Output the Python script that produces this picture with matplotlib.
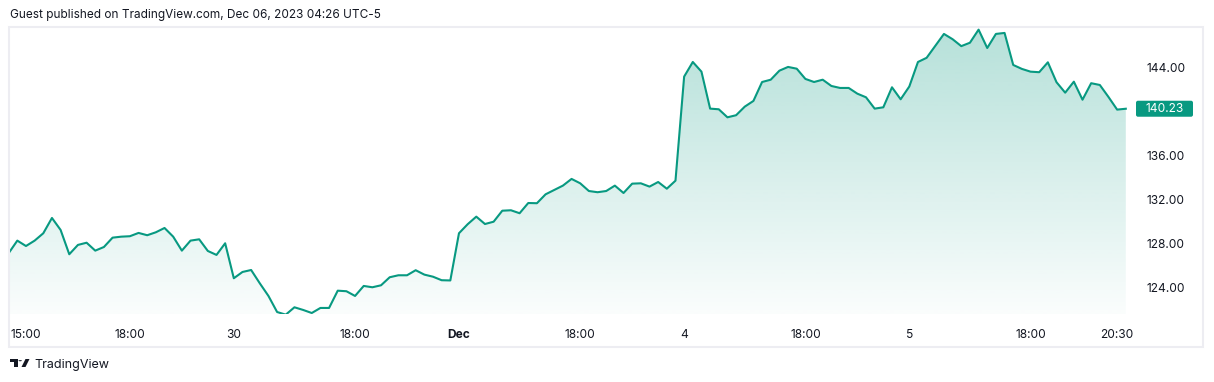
import numpy as np
import matplotlib
matplotlib.use("Agg")
import matplotlib.pyplot as plt
from matplotlib.patches import Rectangle, FancyBboxPatch, Polygon, Circle
from matplotlib.transforms import IdentityTransform

# ---- data ----
prices = [
    127.10, 128.24, 127.75, 128.24, 128.91, 130.30, 129.21, 127.00, 127.85, 128.05,
    127.33, 127.66, 128.51, 128.60, 128.64, 128.94, 128.73, 129.00, 129.39, 128.60,
    127.33, 128.24, 128.36, 127.30, 126.94, 128.00, 124.82, 125.39, 125.57, 124.36,
    123.21, 121.75, 121.51, 122.18, 121.94, 121.66, 122.12, 122.12, 123.69, 123.64,
    123.21, 124.12, 124.00, 124.18, 124.91, 125.09, 125.09, 125.55, 125.15, 124.96,
    124.64, 124.62, 128.91, 129.73, 130.42, 129.75, 129.96, 130.96, 131.00, 130.73,
    131.66, 131.64, 132.45, 132.85, 133.24, 133.85, 133.45, 132.75, 132.64, 132.75,
    133.24, 132.57, 133.42, 133.45, 133.15, 133.57, 132.96, 133.69, 143.15, 144.48,
    143.60, 140.24, 140.18, 139.45, 139.64, 140.42, 140.94, 142.66, 142.87, 143.69,
    144.03, 143.87, 142.94, 142.66, 142.87, 142.30, 142.12, 142.12, 141.60, 141.27,
    140.24, 140.36, 142.18, 141.09, 142.25, 144.48, 144.86, 145.95, 147.03, 146.55,
    145.92, 146.23, 147.42, 145.75, 147.03, 147.12, 144.21, 143.85, 143.60, 143.55,
    144.45, 142.64, 141.69, 142.69, 141.05, 142.55, 142.39, 141.30, 140.15, 140.23,
]
x_tick_bars = [2, 14, 26, 40, 52, 66, 78, 92, 104, 118, 128]
x_tick_labels = ["15:00", "18:00", "30", "18:00", "Dec", "18:00", "4", "18:00", "5", "18:00", "20:30"]
bold_labels = ["Dec"]
y_tick_values = [124, 128, 132, 136, 144]
last_price_label = "140.23"
header = "Guest published on TradingView.com, Dec 06, 2023 04:26 UTC-5"
brand = "TradingView"

# ---- style ----
W, H = 1214, 382
GREEN = "#089981"
TEXT = "#131722"
plt.rcParams["font.family"] = ["Inter", "DejaVu Sans"]

fig = plt.figure(figsize=(W / 100, H / 100), dpi=100)
fig.patch.set_facecolor("white")

def fx(px):
    return px / W

def fy(py):
    return 1 - py / H

# outer frame
fig.patches.append(Rectangle((fx(9), fy(347)), fx(1203) - fx(9), fy(27) - fy(347),
                             transform=fig.transFigure, fill=False,
                             edgecolor="#EDEDF2", linewidth=1.5, zorder=0))

ax = fig.add_axes([fx(9), fy(314), fx(1131) - fx(9), fy(27) - fy(314)])
ax.set_facecolor("none")
x = np.arange(len(prices))
y = np.array(prices)
ymin, ymax = 121.57, 147.66

# gradient fill
grad = np.linspace(0.30, 0.02, 256).reshape(-1, 1)
rgba = np.zeros((256, 1, 4))
rgba[..., 0] = 8 / 255
rgba[..., 1] = 153 / 255
rgba[..., 2] = 129 / 255
rgba[..., 3] = grad
im = ax.imshow(rgba, extent=[x[0], x[-1], ymin, ymax], aspect="auto",
               origin="upper", zorder=1, interpolation="bilinear")
poly = ax.fill_between(x, y, ymin, facecolor="none", edgecolor="none")
im.set_clip_path(poly.get_paths()[0], transform=ax.transData)
ax.set_xlim(0.04, 129.6)
ax.set_ylim(ymin, ymax)

ax.plot(x, y, color=GREEN, linewidth=1.5, zorder=3, solid_joinstyle="round")

for s in ax.spines.values():
    s.set_visible(False)

ax.set_xticks(x_tick_bars)
ax.set_xticklabels(x_tick_labels)
for lab in ax.get_xticklabels():
    if lab.get_text() in bold_labels:
        lab.set_fontweight("bold")
ax.tick_params(axis="x", length=0, pad=10.5, labelsize=8.6, labelcolor=TEXT)

ax.yaxis.tick_right()
ax.set_yticks(y_tick_values)
ax.set_yticklabels([f"{v:.2f}" for v in y_tick_values])
ax.tick_params(axis="y", length=0, pad=11.3, labelsize=8.6, labelcolor=TEXT)

# last price label
fig.canvas.draw()
_, ypx = ax.transData.transform((x[-1], y[-1]))
bw, bh = 57, 16
box = FancyBboxPatch((1136, ypx - bh / 2), bw, bh,
                     boxstyle="round,pad=0,rounding_size=2",
                     transform=IdentityTransform(), facecolor=GREEN,
                     edgecolor="none", zorder=5)
fig.patches.append(box)
fig.text(fx(1136 + bw / 2), ypx / H, last_price_label, color="white",
         fontsize=8.6, ha="center", va="center", zorder=6)

# header
fig.text(fx(10), fy(15), header, color=TEXT, fontsize=8.5, ha="left", va="center")

# brand logo
logo_color = "#131722"
t_shape = [(10, 359), (17.5, 359), (17.5, 367), (14, 367), (14, 362.3), (10, 362.3)]
fig.patches.append(Polygon([(fx(a), fy(b)) for a, b in t_shape], closed=True,
                           transform=fig.transFigure, facecolor=logo_color, edgecolor="none"))
fig.patches.append(Circle((fx(20.2), fy(360.7)), 1.7 / W, transform=fig.transFigure,
                          facecolor=logo_color, edgecolor="none"))
v_shape = [(25.5, 359), (29.5, 359), (25.5, 367), (21.5, 367)]
fig.patches.append(Polygon([(fx(a), fy(b)) for a, b in v_shape], closed=True,
                           transform=fig.transFigure, facecolor=logo_color, edgecolor="none"))
fig.text(fx(34), fy(365), brand, color=logo_color, fontsize=9.0, ha="left", va="center")

fig.savefig("out.png", dpi=100, facecolor="white")
